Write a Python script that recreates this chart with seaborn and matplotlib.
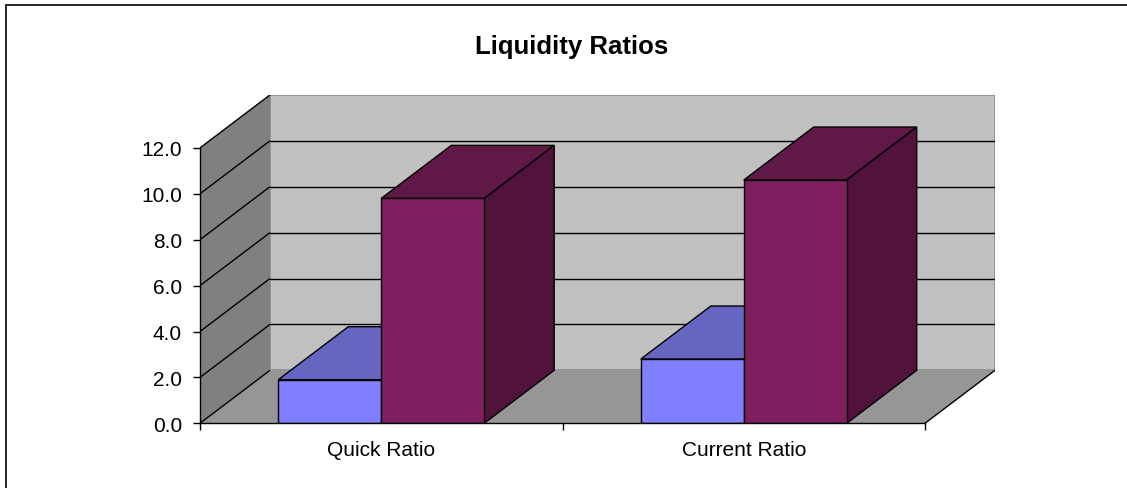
import numpy as np
import pandas as pd
import matplotlib
matplotlib.use("Agg")
import matplotlib.pyplot as plt
from matplotlib.patches import Polygon
from matplotlib.lines import Line2D
import seaborn as sns

# ---- data ----
categories = ["Quick Ratio", "Current Ratio"]
series_names = ["Series 1", "Series 2"]
series1 = [1.9, 2.8]
series2 = [9.8, 10.6]
y_ticks = [0, 2, 4, 6, 8, 10, 12]

# ---- styling ----
front_colors = ["#8080FF", "#7F1F5F"]
top_colors = ["#6666C2", "#601846"]
side_colors = ["#4D4D99", "#51133B"]
side_wall = "#808080"
floor_col = "#969696"
back_wall = "#C0C0C0"

df = pd.DataFrame({
    "category": categories * 2,
    "series": [series_names[0]] * len(categories) + [series_names[1]] * len(categories),
    "value": series1 + series2,
})

sns.set_style("white")
plt.rcParams["font.family"] = ["Liberation Sans", "DejaVu Sans"]
plt.rcParams["text.color"] = "black"
plt.rcParams["xtick.color"] = "black"
plt.rcParams["ytick.color"] = "black"
plt.rcParams["xtick.labelcolor"] = "black"
plt.rcParams["ytick.labelcolor"] = "black"

W, H = 1127, 489
fig = plt.figure(figsize=(W / 100, H / 100), dpi=100)

# pixel geometry of the plotting box
cat_px = 362.5      # pixels per category
unit_px = 22.95     # pixels per value unit
L, B = 200, 424.3   # front-left corner at value 0
DX = 70 / cat_px    # depth offset (category units)
DY = 53 / unit_px   # depth offset (value units)
x0 = -0.5
x_front_end = x0 + len(categories)
x1 = x_front_end + DX
ytop = y_ticks[-1] + DY
R = L + (x1 - x0) * cat_px
T = B - ytop * unit_px
ax = fig.add_axes([L / W, 1 - B / H, (R - L) / W, (B - T) / H])
ax.patch.set_visible(False)

# walls and floor
ax.add_patch(Polygon([(x0 + DX, DY), (x1, DY), (x1, ytop), (x0 + DX, ytop)],
                     closed=True, fc=back_wall, ec="#8C8C8C", lw=1.2, zorder=0.5))
ax.add_patch(Polygon([(x0, 0), (x0 + DX, DY), (x0 + DX, ytop), (x0, y_ticks[-1])],
                     closed=True, fc=side_wall, ec="none", zorder=0.6))
ax.add_patch(Polygon([(x0, 0), (x_front_end, 0), (x1, DY), (x0 + DX, DY)],
                     closed=True, fc=floor_col, ec="none", zorder=0.6))

# gridlines on the side wall and back wall
for v in y_ticks:
    ax.plot([x0, x0 + DX], [v, v + DY], color="black", lw=1.0, zorder=1,
            solid_capstyle="butt")
    if 0 < v < y_ticks[-1]:
        ax.plot([x0 + DX, x1], [v + DY, v + DY], color="black", lw=1.0, zorder=1)
ax.plot([x_front_end, x1], [0, DY], color="black", lw=1.0, zorder=1)

# front faces of the bars
sns.barplot(data=df, x="category", y="value", hue="series", palette=front_colors,
            saturation=1, width=0.568, gap=0, edgecolor="black", linewidth=1.0,
            legend=False, ax=ax, zorder=3)
bars = [p for p in ax.patches if p.get_zorder() == 3]

# top and side faces (left bar of each group is series 1)
for p in bars:
    xl = p.get_x()
    xr = xl + p.get_width()
    h = p.get_height()
    centre = (xl + xr) / 2
    idx = 0 if centre < round(centre) else 1
    top = Polygon([(xl, h), (xr, h), (xr + DX, h + DY), (xl + DX, h + DY)],
                  closed=True, fc=top_colors[idx], ec="black", lw=1.0, zorder=2)
    side = Polygon([(xr, 0), (xr + DX, DY), (xr + DX, h + DY), (xr, h)],
                   closed=True, fc=side_colors[idx], ec="black", lw=1.0, zorder=2)
    ax.add_patch(top)
    ax.add_patch(side)

ax.set_xlim(x0, x1)
ax.set_ylim(0, ytop)
ax.set_xlabel("")
ax.set_ylabel("")

# axes, ticks and labels
for s in ["top", "right"]:
    ax.spines[s].set_visible(False)
ax.spines["left"].set_bounds(0, y_ticks[-1])
ax.spines["bottom"].set_bounds(x0, x_front_end)
for s in ["left", "bottom"]:
    ax.spines[s].set_color("black")
    ax.spines[s].set_linewidth(1.0)
    ax.spines[s].set_zorder(4)

ax.set_yticks(y_ticks)
ax.set_yticklabels([f"{v:.1f}" for v in y_ticks])
ax.set_xticks(range(len(categories)))
ax.set_xticklabels(categories)
ax.set_xticks(np.arange(x0, x_front_end + 0.01, 1.0), minor=True)
ax.tick_params(axis="y", length=5, width=1, color="black", direction="out",
               pad=8, labelsize=15, left=True)
ax.tick_params(axis="x", which="major", length=0, pad=12, labelsize=15)
ax.tick_params(axis="x", which="minor", length=5, width=1, color="black",
               direction="out", bottom=True)

fig.text(572 / W, 1 - 47 / H, "Liquidity Ratios", ha="center", va="center",
         fontsize=18.5, fontweight="bold", color="black")

# chart frame
fig.add_artist(Line2D([6 / W, 6 / W], [1 - 6 / H, 0], color="black", lw=1.2,
                      transform=fig.transFigure))
fig.add_artist(Line2D([6 / W, 1], [1 - 6 / H, 1 - 6 / H], color="black", lw=1.2,
                      transform=fig.transFigure))

fig.savefig("out.png", dpi=100, facecolor="white")
